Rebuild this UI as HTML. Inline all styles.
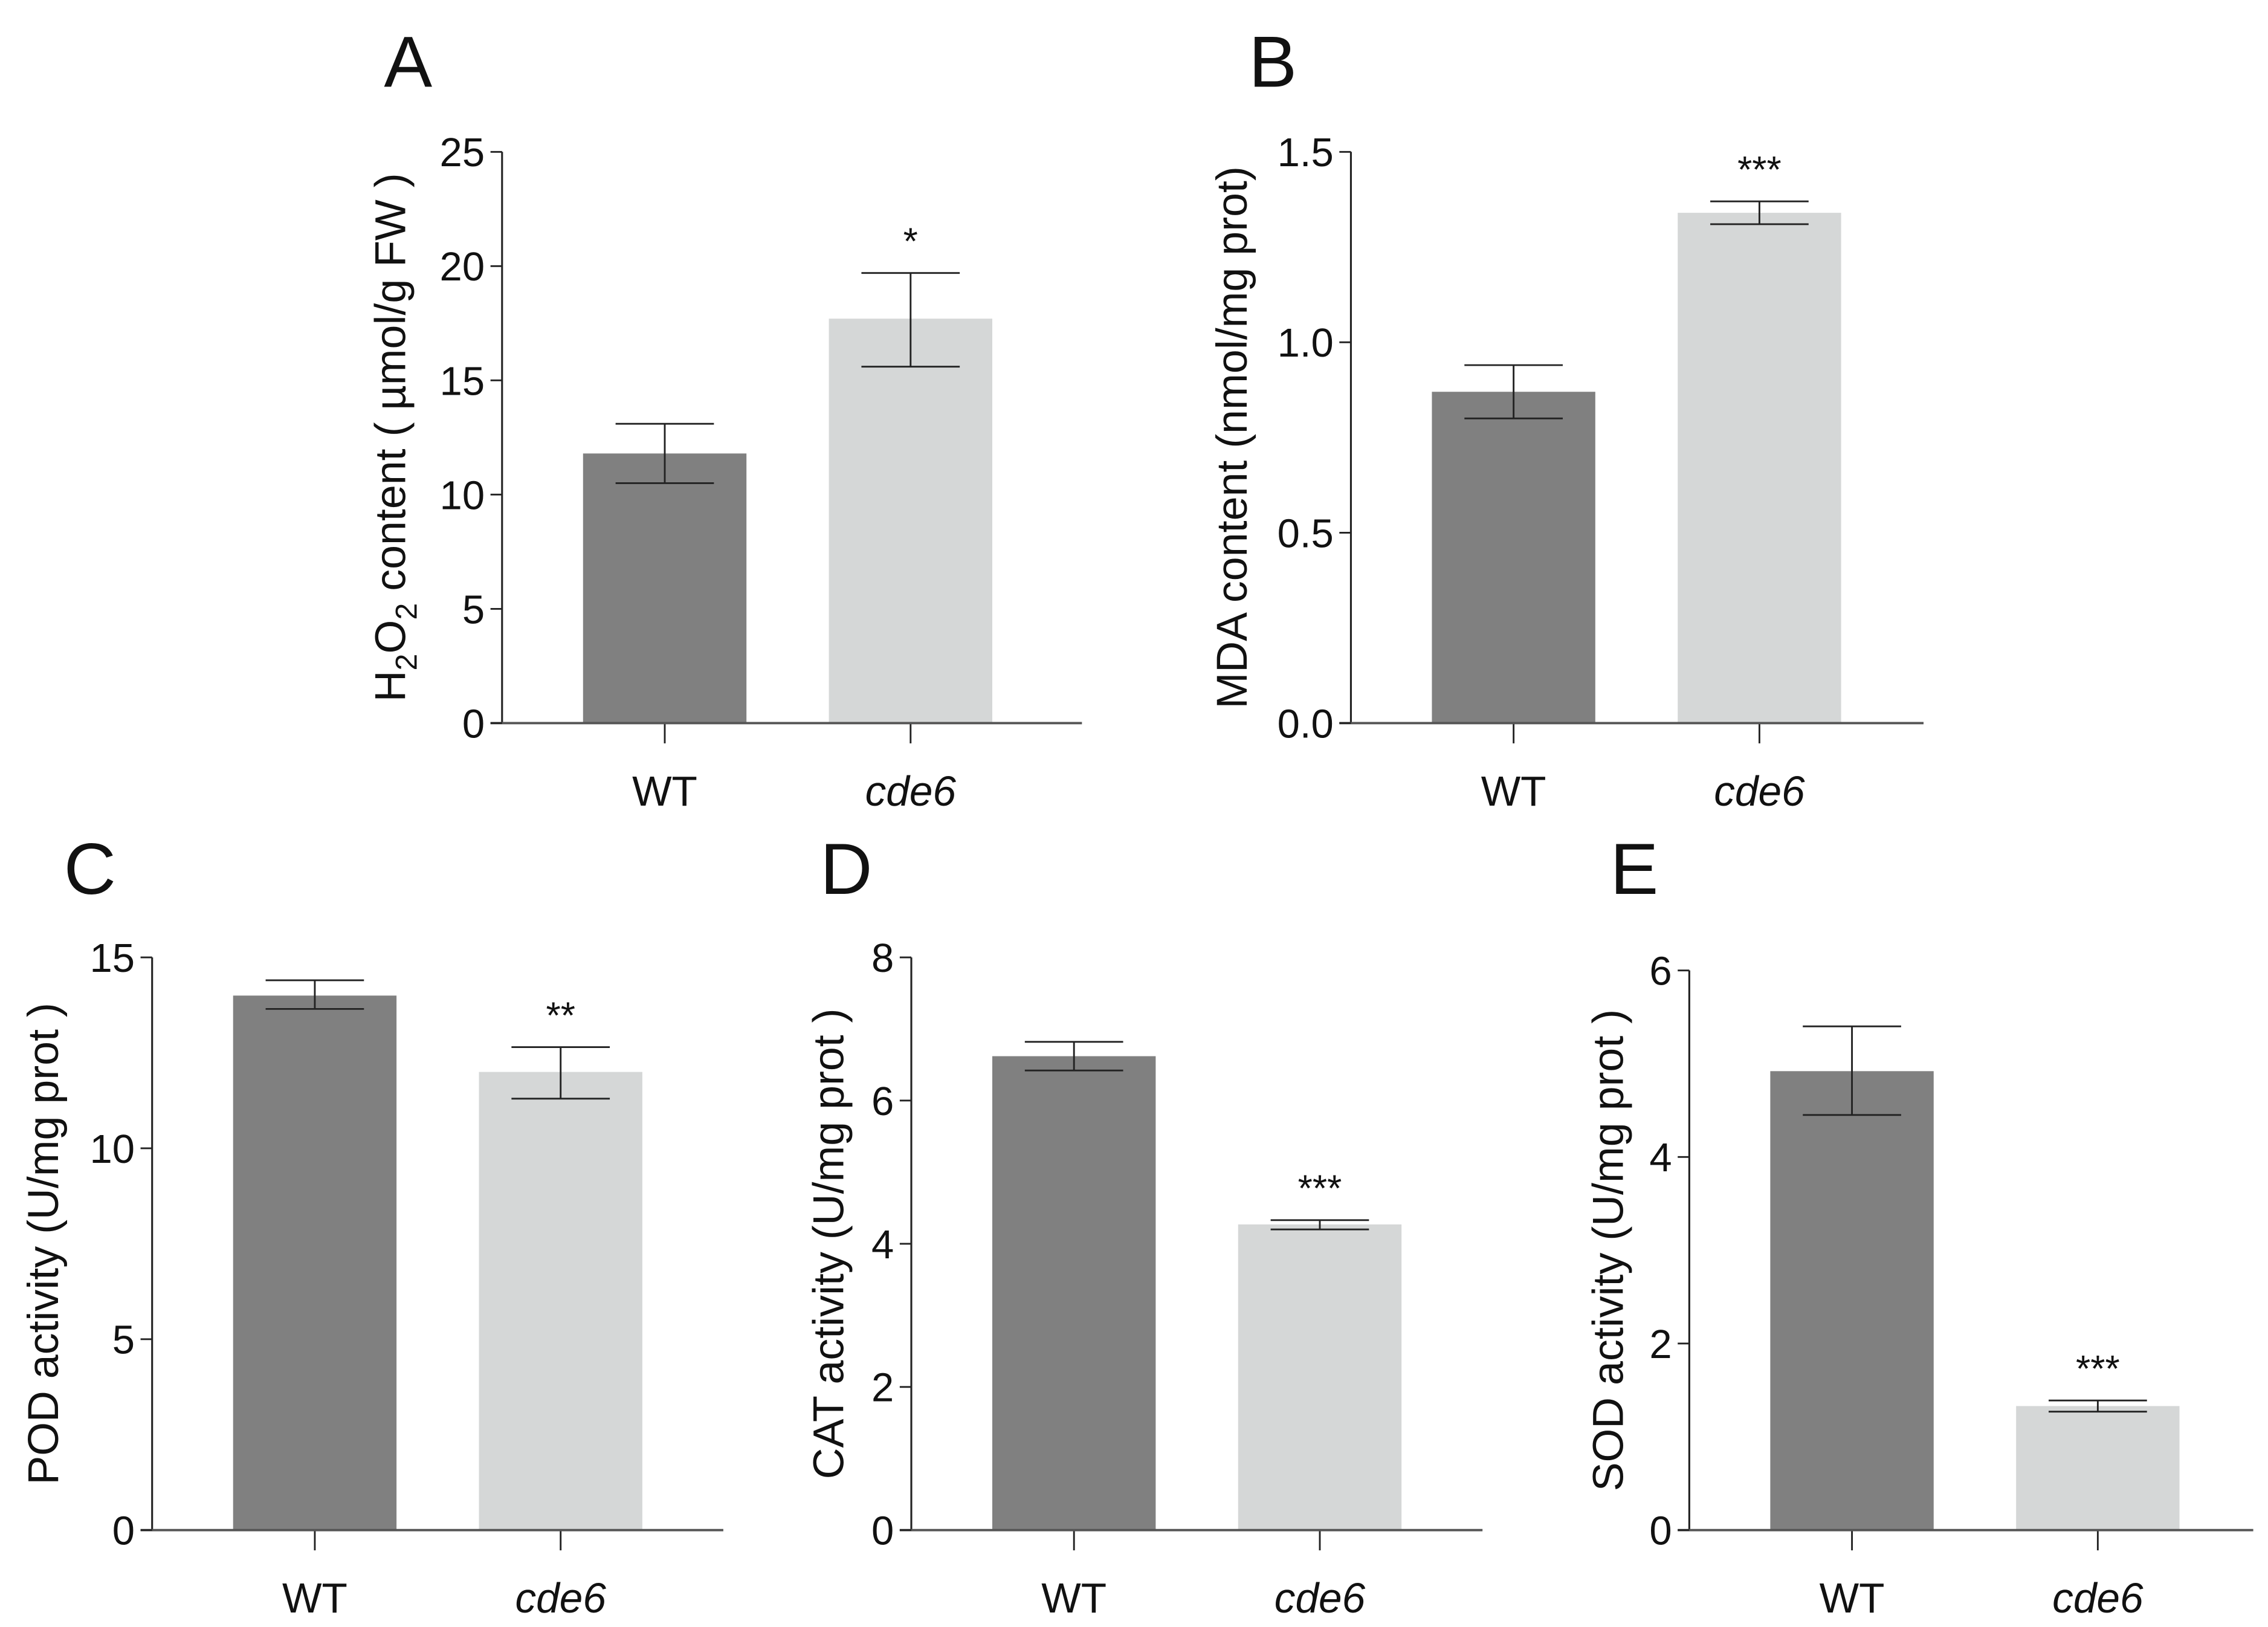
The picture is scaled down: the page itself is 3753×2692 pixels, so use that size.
<!DOCTYPE html>
<html><head><meta charset="utf-8"><style>
html,body{margin:0;padding:0;background:#fff}
svg{display:block}
text{font-family:"Liberation Sans",Arial,sans-serif;fill:#111}
</style></head><body>
<svg id="chart" width="3753" height="2692" viewBox="0 0 1568 1125" xmlns="http://www.w3.org/2000/svg"></svg>
<script>
const categories = ["WT", "cde6"];
const panelLetters = ["A", "B", "C", "D", "E"];
const meansA = [11.8, 17.7], errLoA = [10.5, 15.6], errHiA = [13.1, 19.7];
const meansB = [0.87, 1.34], errLoB = [0.80, 1.31], errHiB = [0.94, 1.37];
const meansC = [14.0, 12.0], errLoC = [13.65, 11.3], errHiC = [14.4, 12.65];
const meansD = [6.62, 4.27], errLoD = [6.42, 4.2], errHiD = [6.82, 4.33];
const meansE = [4.92, 1.33], errLoE = [4.45, 1.27], errHiE = [5.4, 1.39];
const ticksA = ["0","5","10","15","20","25"];
const ticksB = ["0.0","0.5","1.0","1.5"];
const ticksC = ["0","5","10","15"];
const ticksD = ["0","2","4","6","8"];
const ticksE = ["0","2","4","6"];
const sigA = ["", "*"], sigB = ["", "***"], sigC = ["", "**"], sigD = ["", "***"], sigE = ["", "***"];

const svg = document.getElementById('chart');
const NS = "http://www.w3.org/2000/svg";
function mk(tag, attrs, parent, txt){
  const e = document.createElementNS(NS, tag);
  for (const k in attrs) e.setAttribute(k, attrs[k]);
  if (txt !== undefined) e.textContent = txt;
  (parent||svg).appendChild(e);
  return e;
}
const panels = [
  {id:"a", means:meansA, lo:errLoA, hi:errHiA, ticks:ticksA, sig:sigA, ax:347, x1:748, y0:500, yTop:105, letterX:282, letterY:60, titleX:280, title:"h2o2"},
  {id:"b", means:meansB, lo:errLoB, hi:errHiB, ticks:ticksB, sig:sigB, ax:934, x1:1330, y0:500, yTop:105, letterX:880, letterY:60, titleX:862, title:"MDA content (nmol/mg prot)"},
  {id:"c", means:meansC, lo:errLoC, hi:errHiC, ticks:ticksC, sig:sigC, ax:105, x1:500, y0:1058, yTop:662, letterX:62, letterY:618, titleX:40, title:"POD activity (U/mg prot )"},
  {id:"d", means:meansD, lo:errLoD, hi:errHiD, ticks:ticksD, sig:sigD, ax:630, x1:1025, y0:1058, yTop:662, letterX:585, letterY:618, titleX:583, title:"CAT activity (U/mg prot )"},
  {id:"e", means:meansE, lo:errLoE, hi:errHiE, ticks:ticksE, sig:sigE, ax:1168, x1:1558, y0:1058, yTop:671, letterX:1130, letterY:618, titleX:1122, title:"SOD activity (U/mg prot )"}
];
const colors = ["#808080", "#d5d7d7"];
panels.forEach((p, pi) => {
  const g = mk('g', {});
  
  
  const tmin = parseFloat(p.ticks[0]), tmax = parseFloat(p.ticks[p.ticks.length-1]);
  const y = v => p.y0 - (v - tmin) / (tmax - tmin) * (p.y0 - p.yTop);
  const barW = 113, gap = 57;
  const xStart = p.ax + 56;
  const bx = i => xStart + i * (barW + gap);
  const L = mk('text', {x:p.letterX, y:p.letterY, 'font-size':50, 'text-anchor':'middle'}, g, panelLetters[pi]);
  
  
  p.means.forEach((m, i) => {
    const r = mk('rect', {x:bx(i), y:y(m), width:barW, height:p.y0 - y(m), fill:colors[i]}, g);
    
    
    const cx = bx(i) + barW/2;
    const eb = mk('path', {d:`M${cx} ${y(p.lo[i])}V${y(p.hi[i])}M${cx-34} ${y(p.hi[i])}H${cx+34}M${cx-34} ${y(p.lo[i])}H${cx+34}`, stroke:'#222', 'stroke-width':1.2, fill:'none'}, g);
    
    
    if (p.sig[i]) {
      const s = mk('text', {x:cx, y:y(p.hi[i]) - 13, 'font-size':26, 'text-anchor':'middle'}, g, p.sig[i]);
      
      
    }
    const xt = mk('line', {x1:cx, x2:cx, y1:p.y0, y2:p.y0+14, stroke:'#222', 'stroke-width':1.2}, g);
    
    
    const lab = mk('text', {x:cx, y:p.y0+57, 'font-size':29, 'text-anchor':'middle', 'font-style': i===1?'italic':'normal'}, g, categories[i]);
    
    
  });
  const ya = mk('line', {x1:p.ax, x2:p.ax, y1:p.yTop, y2:p.y0, stroke:'#222', 'stroke-width':1.3}, g);
  
  
  const xa = mk('line', {x1:p.ax-8, x2:p.x1, y1:p.y0, y2:p.y0, stroke:'#555', 'stroke-width':1.6}, g);
  
  
  p.ticks.forEach(t => {
    const v = parseFloat(t);
    const tl = mk('line', {x1:p.ax-8, x2:p.ax, y1:y(v), y2:y(v), stroke:'#222', 'stroke-width':1.2}, g);
    
    
    const tt = mk('text', {x:p.ax-12, y:y(v)+10, 'font-size':28, 'text-anchor':'end'}, g, t);
    
    
  });
  const cy = (p.y0 + p.yTop) / 2;
  const T = mk('text', {x:0, y:0, 'font-size':30, 'text-anchor':'middle', transform:`translate(${p.titleX},${cy}) rotate(-90)`}, g);
  
  
  if (p.title === "h2o2") {
    mk('tspan', {}, T, "H");
    mk('tspan', {'font-size':21, dy:8}, T, "2");
    mk('tspan', {dy:-8}, T, "O");
    mk('tspan', {'font-size':21, dy:8}, T, "2");
    mk('tspan', {dy:-8}, T, " content ( µmol/g FW )");
  } else {
    T.textContent = p.title;
  }
});
</script>
</body></html>
